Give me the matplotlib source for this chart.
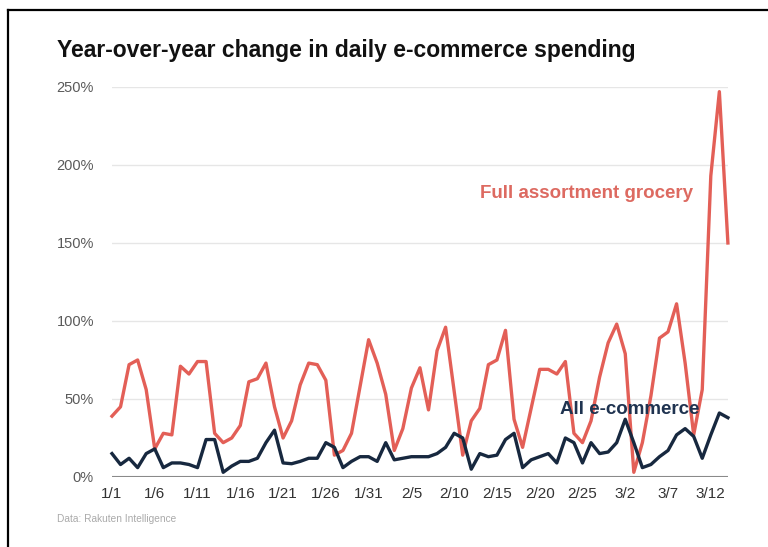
import matplotlib.pyplot as plt
from matplotlib.lines import Line2D

# daily YoY change, 1/1 .. 3/14 (73 days)
grocery = [39, 45, 72, 75, 56, 18, 28, 27, 71, 66,
           74, 74, 28, 22, 25, 33, 61, 63, 73, 45,
           25, 36, 59, 73, 72, 62, 14, 17, 28, 58,
           88, 73, 53, 17, 31, 57, 70, 43, 81, 96,
           55, 14, 36, 44, 72, 75, 94, 37, 19, 44,
           69, 69, 66, 74, 28, 22, 36, 64, 86, 98,
           79, 3, 22, 52, 89, 93, 111, 73, 27, 56,
           193, 247, 150]
all_ecom = [15, 8, 12, 6, 15, 18, 6, 9, 9, 8,
            6, 24, 24, 3, 7, 10, 10, 12, 22, 30,
            9, 8.5, 10, 12, 12, 22, 19, 6, 10, 13,
            13, 10, 22, 11, 12, 13, 13, 13, 15, 19,
            28, 25, 5, 15, 13, 14, 24, 28, 6, 11,
            13, 15, 9, 25, 22, 9, 22, 15, 16, 22,
            37, 22, 6, 8, 13, 17, 27, 31, 26, 12,
            27, 41, 38]
days = list(range(len(grocery)))
tick_labels = ["1/1", "1/6", "1/11", "1/16", "1/21", "1/26", "1/31", "2/5",
               "2/10", "2/15", "2/20", "2/25", "3/2", "3/7", "3/12"]
y_ticks = [0, 50, 100, 150, 200, 250]

red = "#e35f57"
navy = "#17283f"

plt.rcParams['font.family'] = ['Liberation Sans', 'DejaVu Sans']

fig = plt.figure(figsize=(7.68, 5.47), dpi=100)
ax = fig.add_axes([0.1458, 0.128, 0.802, 0.713])

for y in y_ticks[1:]:
    ax.axhline(y, color="#e6e6e6", lw=1, zorder=0)
ax.axhline(0, color="#8a8a8a", lw=1.5, zorder=1)

ax.plot(days, grocery, color=red, lw=2.4, clip_on=False, zorder=3)
ax.plot(days, all_ecom, color=navy, lw=2.4, clip_on=False, zorder=4)

ax.set_xlim(0, 72)
ax.set_ylim(0, 250)
ax.set_xticks(days[::5])
ax.set_xticklabels(tick_labels, fontsize=11, color="#333333")
ax.set_yticks(y_ticks)
ax.set_yticklabels([f"{v}%" for v in y_ticks], fontsize=10.5, color="#5a5a5a")
ax.tick_params(axis='both', length=0)
ax.tick_params(axis='y', pad=13)
ax.tick_params(axis='x', pad=7)
for s in ax.spines.values():
    s.set_visible(False)

ax.text(0.770, 0.728, "Full assortment grocery", transform=ax.transAxes,
        color="#dd6a61", fontsize=13.5, fontweight='bold', ha='center', va='center')
ax.text(0.841, 0.174, "All e-commerce", transform=ax.transAxes,
        color="#1f3350", fontsize=13.5, fontweight='bold', ha='center', va='center')

fig.text(0.074, 0.908, "Year-over-year change in daily e-commerce spending",
         fontsize=16.5, fontweight='bold', color="#111111", va='center')
fig.text(0.074, 0.051, "Data: Rakuten Intelligence", fontsize=7.3, color="#aaaaaa",
         va='center')

# frame of the screenshot (top and left edges)
fig.add_artist(Line2D([0.011, 1.0], [0.981, 0.981], color="black", lw=1.6,
                      transform=fig.transFigure))
fig.add_artist(Line2D([0.011, 0.011], [0.0, 0.981], color="black", lw=1.6,
                      transform=fig.transFigure))

fig.savefig("out.png", dpi=100)
